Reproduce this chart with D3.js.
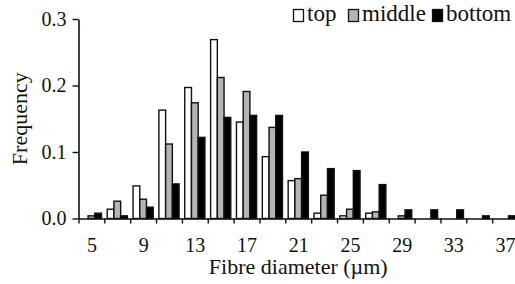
<!DOCTYPE html>
<html>
<head>
<meta charset="utf-8">
<script src="https://cdn.jsdelivr.net/npm/d3@7"></script>
<style>
  body { margin: 0; background: #fff; }
  text { font-family: "Liberation Serif", "Times New Roman", serif; fill: #111; }
</style>
</head>
<body>
<div id="chart"></div>
<script>
// fibre diameter bins (µm) and frequency of each sample position
var bins = [5, 7, 9, 11, 13, 15, 17, 19, 21, 23, 25, 27, 29, 31, 33, 35, 37];
var topVals    = [0, 0.014, 0.049, 0.163, 0.197, 0.269, 0.145, 0.093, 0.057, 0.008, 0.004, 0.008, 0, 0, 0, 0, 0];
var middleVals = [0.004, 0.026, 0.029, 0.112, 0.174, 0.212, 0.191, 0.137, 0.060, 0.035, 0.014, 0.010, 0.004, 0, 0, 0, 0];
var bottomVals = [0.008, 0.004, 0.017, 0.052, 0.122, 0.152, 0.155, 0.155, 0.100, 0.075, 0.072, 0.051, 0.013, 0.013, 0.013, 0.004, 0.004];
var seriesNames = ["top", "middle", "bottom"];
var seriesColors = ["#ffffff", "#b4b4b4", "#000000"];
var xTickLabels = [5, 9, 13, 17, 21, 25, 29, 33, 37];
var yTicks = [0, 0.1, 0.2, 0.3];

var width = 515, height = 284;
var plotLeft = 78.5, plotRight = 518, plotTop = 19, plotBottom = 218.5;

var svg = d3.select("#chart")
  .append("svg")
  .attr("width", width)
  .attr("height", height);

// scales
var x0 = d3.scaleBand()
  .domain(bins)
  .range([plotLeft, plotRight])
  .paddingInner(0.22)
  .paddingOuter(0.11);

var x1 = d3.scaleBand()
  .domain(seriesNames)
  .range([0, x0.bandwidth()]);

// linear scale for bin edges (ticks) and centres (labels)
var xLin = d3.scaleLinear()
  .domain([bins[0] - 1, bins[bins.length - 1] + 1])
  .range([plotLeft, plotRight]);

var y = d3.scaleLinear()
  .domain([0, 0.3])
  .range([plotBottom, plotTop]);

var rows = bins.map(function(b, i) {
  return { bin: b, values: [topVals[i], middleVals[i], bottomVals[i]] };
});

// bars
var groups = svg.selectAll(".group")
  .data(rows)
  .enter()
  .append("g")
  .attr("class", "group")
  .attr("transform", function(d) { return "translate(" + x0(d.bin) + ",0)"; });

groups.selectAll("rect")
  .data(function(d) {
    return d.values.map(function(v, k) { return { key: seriesNames[k], k: k, value: v }; })
      .filter(function(e) { return e.value > 0; });
  })
  .enter()
  .append("rect")
  .attr("x", function(d) { return x1(d.key); })
  .attr("y", function(d) { return y(d.value); })
  .attr("width", x1.bandwidth())
  .attr("height", function(d) { return plotBottom - y(d.value); })
  .attr("fill", function(d) { return seriesColors[d.k]; })
  .attr("stroke", "#111")
  .attr("stroke-width", 1.4);

// x axis: tick marks at bin edges
var edges = d3.range(bins[0] - 1, bins[bins.length - 1] + 2, 2);
var xAxis = svg.append("g")
  .attr("transform", "translate(0," + plotBottom + ")")
  .call(d3.axisBottom(xLin).tickValues(edges).tickSize(5).tickFormat("").tickSizeOuter(0));
xAxis.select(".domain").attr("stroke", "#111").attr("stroke-width", 1.6);
xAxis.selectAll(".tick line").attr("stroke", "#111").attr("stroke-width", 1.4);

// x labels at bin centres
var xLabels = svg.append("g")
  .attr("transform", "translate(0," + plotBottom + ")")
  .call(d3.axisBottom(xLin).tickValues(xTickLabels).tickSize(0).tickPadding(19));
xLabels.select(".domain").remove();
xLabels.selectAll("text")
  .style("font-family", "Liberation Serif, serif")
  .style("font-size", "20px")
  .attr("fill", "#111");

// y axis
var yAxis = svg.append("g")
  .attr("transform", "translate(" + plotLeft + ",0)")
  .call(d3.axisLeft(y).tickValues(yTicks).tickFormat(d3.format(".1f")).tickSize(6).tickPadding(6).tickSizeOuter(0));
yAxis.select(".domain").attr("stroke", "#111").attr("stroke-width", 1.6);
yAxis.selectAll(".tick line").attr("stroke", "#111").attr("stroke-width", 1.4);
yAxis.selectAll("text")
  .style("font-family", "Liberation Serif, serif")
  .style("font-size", "20px")
  .attr("fill", "#111");

// axis titles
svg.append("text")
  .attr("x", (plotLeft + plotRight) / 2)
  .attr("y", 274)
  .attr("text-anchor", "middle")
  .style("font-size", "22px")
  .text("Fibre diameter (µm)");

svg.append("text")
  .attr("transform", "translate(27," + (plotTop + plotBottom) / 2 + ") rotate(-90)")
  .attr("text-anchor", "middle")
  .style("font-size", "22px")
  .text("Frequency");

// legend
var legendBoxX = [293, 348, 432];
var legend = svg.selectAll(".legend")
  .data(seriesNames)
  .enter()
  .append("g")
  .attr("class", "legend")
  .attr("transform", function(d, i) { return "translate(" + legendBoxX[i] + ",0)"; });

legend.append("rect")
  .attr("x", 0.5)
  .attr("y", 9.5)
  .attr("width", 10)
  .attr("height", 12)
  .attr("fill", function(d, i) { return seriesColors[i]; })
  .attr("stroke", "#111")
  .attr("stroke-width", 1.3);

legend.append("text")
  .attr("x", 14)
  .attr("y", 21)
  .style("font-size", "23px")
  .text(function(d) { return d; });
</script>
</body>
</html>
